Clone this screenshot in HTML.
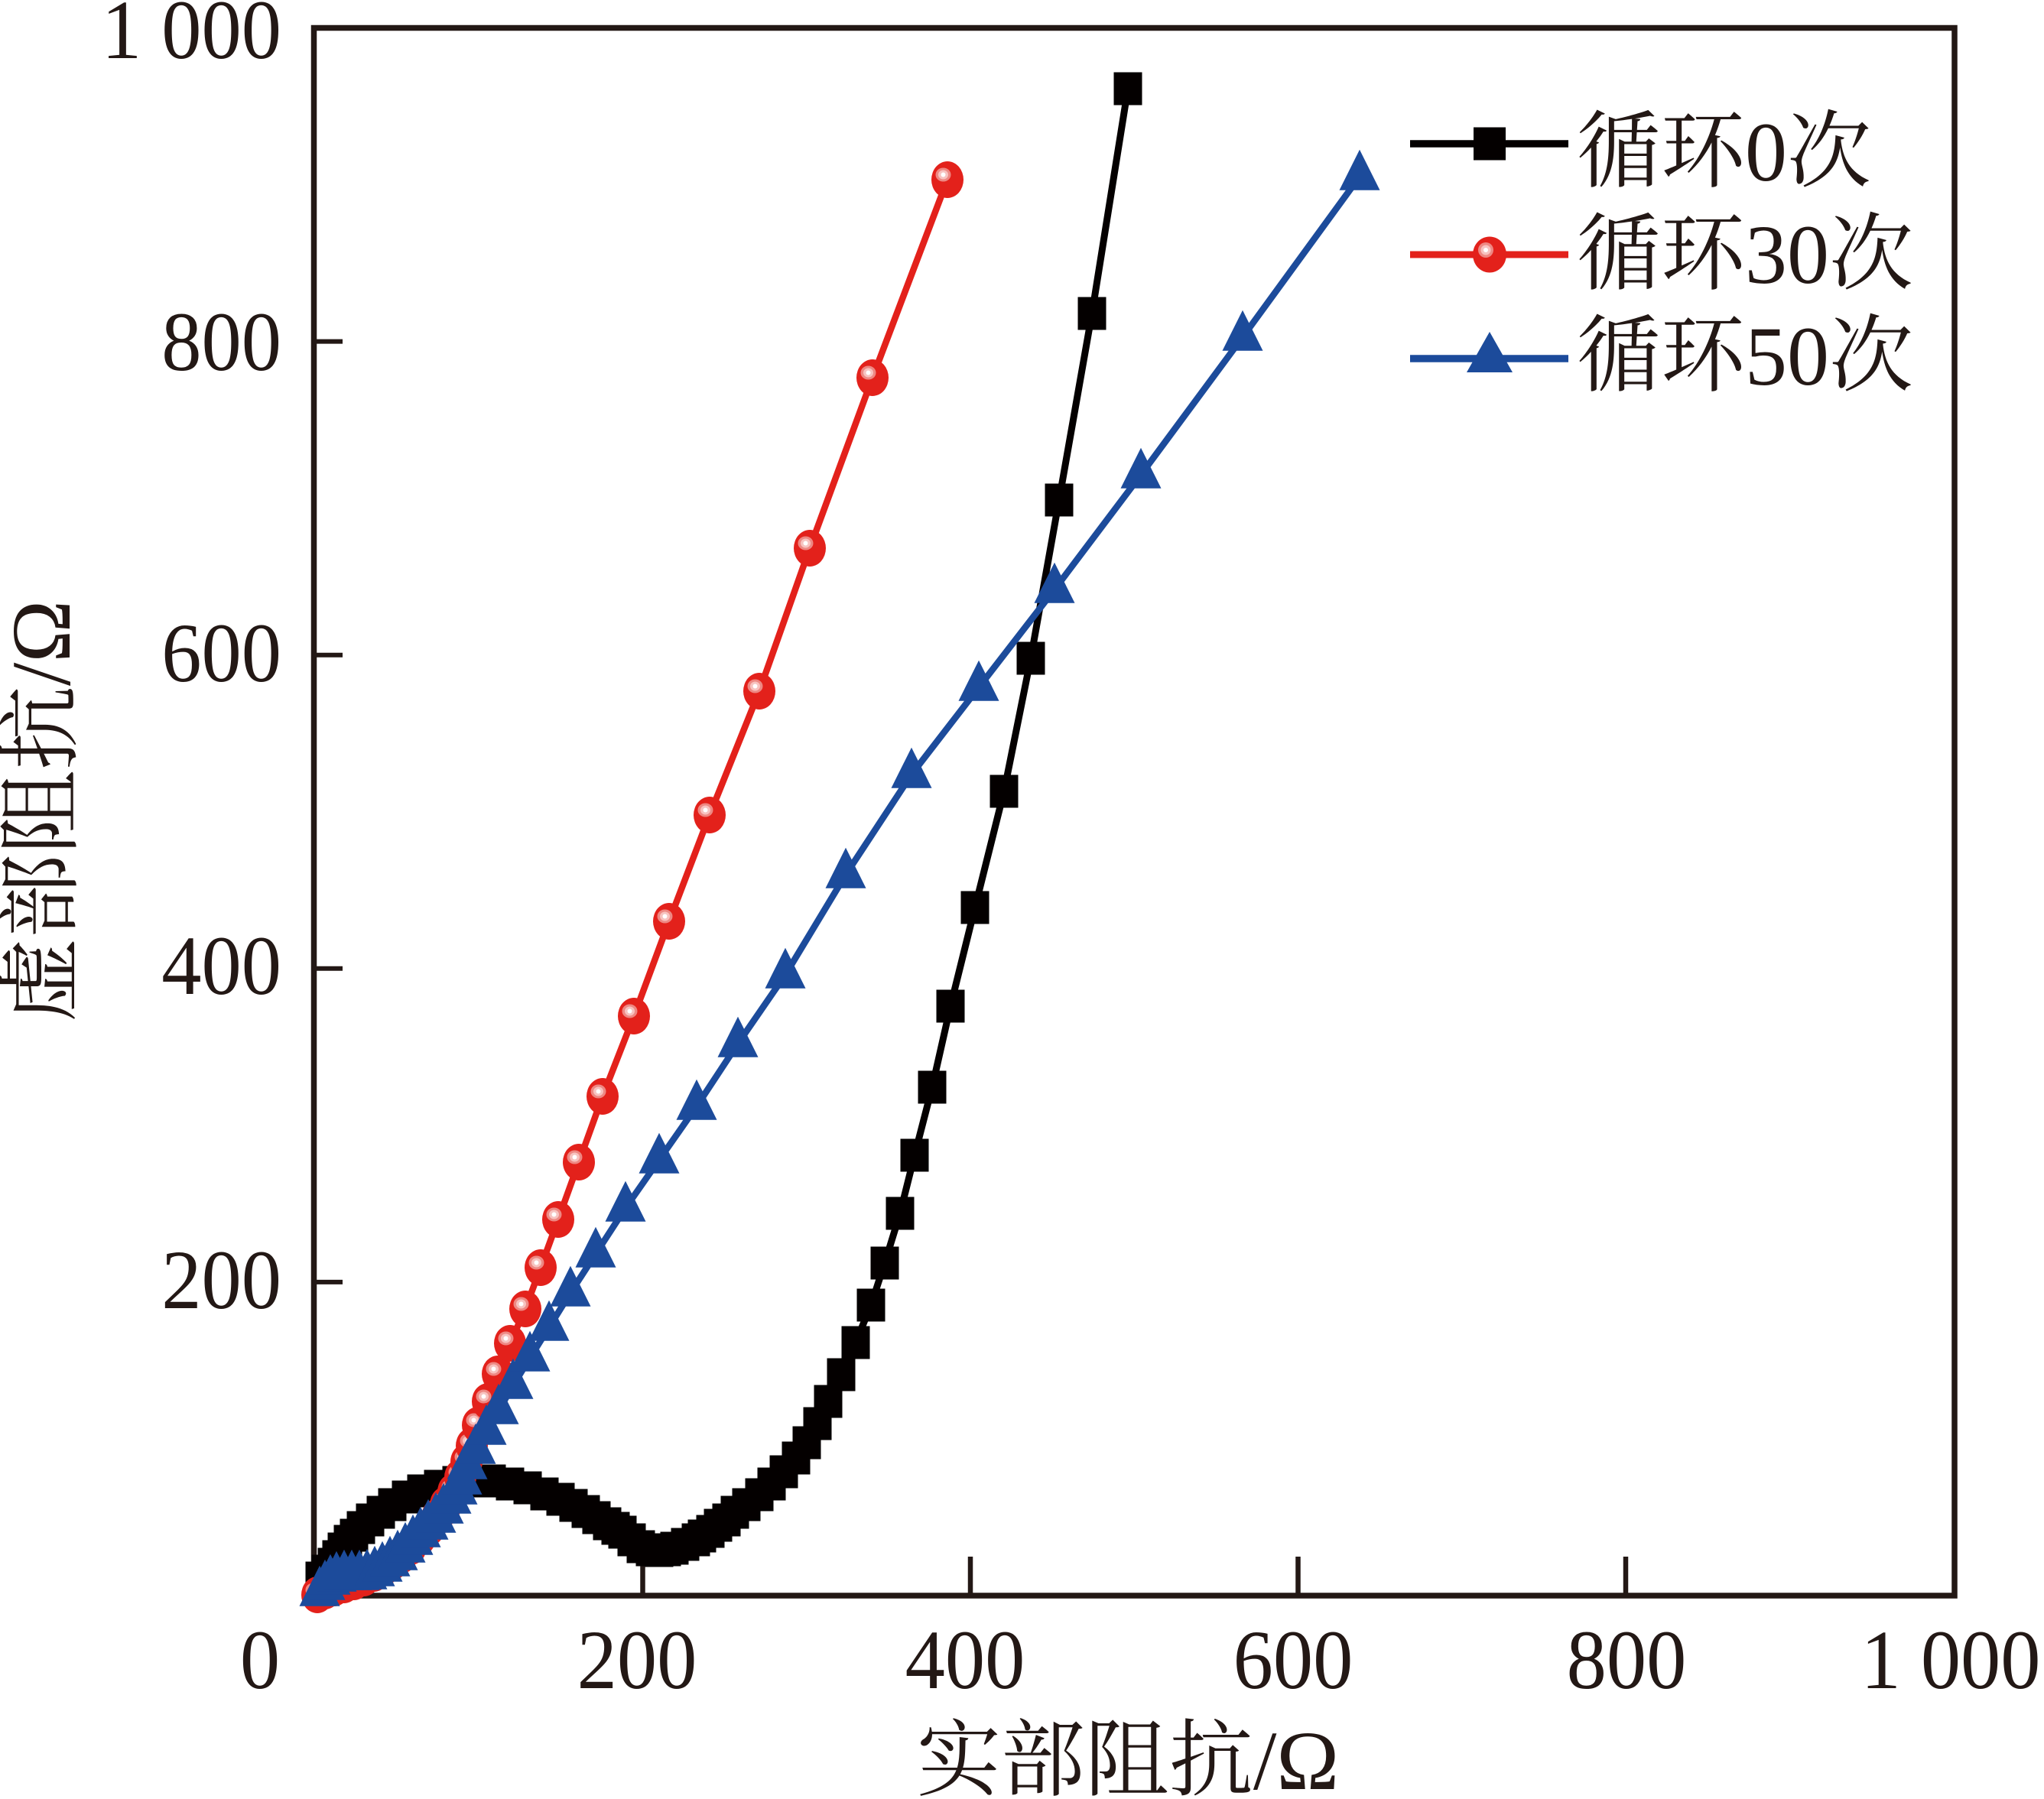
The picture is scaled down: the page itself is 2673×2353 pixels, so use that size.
<!DOCTYPE html>
<html>
<head>
<meta charset="utf-8">
<style>
  html, body { margin: 0; padding: 0; background: #ffffff; }
  svg { display: block; }
  .num { font-family: "Liberation Serif", "Times New Roman", serif; font-size: 110px; fill: #231815; }
  .lab { font-family: "Liberation Serif", "Noto Serif CJK SC", serif; font-size: 110px; fill: #231815; }
</style>
</head>
<body>
<svg width="2673" height="2353" viewBox="0 0 2673 2353" xmlns="http://www.w3.org/2000/svg">
  <defs>
    <marker id="sq" markerUnits="userSpaceOnUse" viewBox="-25 -25 50 50" refX="0" refY="0" markerWidth="50" markerHeight="50" overflow="visible">
      <rect x="-18.5" y="-21.5" width="37" height="43" fill="#040000"/>
    </marker>
    <marker id="ci" markerUnits="userSpaceOnUse" viewBox="-30 -30 60 60" refX="0" refY="0" markerWidth="60" markerHeight="60" overflow="visible">
      <ellipse cx="0" cy="0" rx="21" ry="24" fill="#e3211b"/>
      <ellipse cx="-5.5" cy="-6.5" rx="10" ry="9" fill="#ee8883"/>
      <ellipse cx="-5.5" cy="-6.5" rx="6.5" ry="6" fill="#f7c3c0"/>
      <ellipse cx="-5.5" cy="-6.5" rx="3" ry="3" fill="#ffffff"/>
    </marker>
    <marker id="tr" markerUnits="userSpaceOnUse" viewBox="-30 -40 60 60" refX="0" refY="0" markerWidth="60" markerHeight="60" overflow="visible">
      <polygon points="0,-35.3 26.5,17.7 -26.5,17.7" fill="#1c4b9b"/>
    </marker>
  </defs>

  <!-- axes frame -->
  <rect x="410.5" y="36.5" width="2145.5" height="2050.5" fill="none" stroke="#231815" stroke-width="7.5"/>
  <!-- x ticks -->
  <g stroke="#231815" stroke-width="6.5">
    <line x1="840.5" y1="2087" x2="840.5" y2="2036"/>
    <line x1="1269" y1="2087" x2="1269" y2="2036"/>
    <line x1="1697.5" y1="2087" x2="1697.5" y2="2036"/>
    <line x1="2126" y1="2087" x2="2126" y2="2036"/>
  </g>
  <!-- y ticks -->
  <g stroke="#231815" stroke-width="6">
    <line x1="410" y1="446.6" x2="448" y2="446.6"/>
    <line x1="410" y1="856.7" x2="448" y2="856.7"/>
    <line x1="410" y1="1266.8" x2="448" y2="1266.8"/>
    <line x1="410" y1="1676.9" x2="448" y2="1676.9"/>
  </g>

  <!-- x tick labels -->
  <text class="num" text-anchor="middle" transform="translate(340,2208) scale(0.95,1)">0</text>
  <text class="num" text-anchor="middle" transform="translate(833,2208) scale(0.95,1)">200</text>
  <text class="num" text-anchor="middle" transform="translate(1262,2208) scale(0.95,1)">400</text>
  <text class="num" text-anchor="middle" transform="translate(1691,2208) scale(0.95,1)">600</text>
  <text class="num" text-anchor="middle" transform="translate(2127,2208) scale(0.95,1)">800</text>
  <text class="num" text-anchor="middle" transform="translate(2551,2208) scale(0.95,1)">1 000</text>

  <!-- y tick labels -->
  <text class="num" text-anchor="end" transform="translate(368,76) scale(0.95,1)">1 000</text>
  <text class="num" text-anchor="end" transform="translate(368,484) scale(0.95,1)">800</text>
  <text class="num" text-anchor="end" transform="translate(368,891) scale(0.95,1)">600</text>
  <text class="num" text-anchor="end" transform="translate(368,1300) scale(0.95,1)">400</text>
  <text class="num" text-anchor="end" transform="translate(368,1711) scale(0.95,1)">200</text>

  <!-- axis titles -->
  <text class="lab" text-anchor="middle" x="1475" y="2340">实部阻抗/Ω</text>
  <text class="lab" text-anchor="middle" transform="translate(91,1061) rotate(-90)">虚部阻抗/Ω</text>

  <!-- Series: 循环0次 (black squares) -->
  <polyline fill="none" stroke="#040000" stroke-width="9" stroke-linejoin="round" stroke-linecap="round"
    points="418,2064 426,2055 434,2046 440,2036 447,2026 455,2016 463,2008 472,1998 484,1988 498,1978 513,1968 531,1958 551,1950 573,1944 597,1939 620,1937 643,1937 667,1941 690,1946 712,1954 733,1961 750,1969 766,1977 780,1985 794,1993 805,1999 814,2004 826,2014 838,2023 850,2027 862,2028 872,2027 882,2025 896,2020 910,2014 918,2009 929,2003 939,1995 950,1988 961,1978 976,1968 993,1955 1009,1941 1025,1925 1041,1907 1055,1887 1069,1862 1083,1833 1100,1798 1119,1756 1139,1707 1157,1652 1177,1587 1196,1511 1219,1422 1243,1316 1275,1187 1313,1035 1348,861 1385,654 1428,410 1475,116"/>
  <polyline fill="none" stroke="none" marker-start="url(#sq)" marker-mid="url(#sq)" marker-end="url(#sq)"
    points="418,2064 426,2055 434,2046 440,2036 447,2026 455,2016 463,2008 472,1998 484,1988 498,1978 513,1968 531,1958 551,1950 573,1944 597,1939 620,1937 643,1937 667,1941 690,1946 712,1954 733,1961 750,1969 766,1977 780,1985 794,1993 805,1999 814,2004 826,2014 838,2023 850,2027 862,2028 872,2027 882,2025 896,2020 910,2014 918,2009 929,2003 939,1995 950,1988 961,1978 976,1968 993,1955 1009,1941 1025,1925 1041,1907 1055,1887 1069,1862 1083,1833 1100,1798 1119,1756 1139,1707 1157,1652 1177,1587 1196,1511 1219,1422 1243,1316 1275,1187 1313,1035 1348,861 1385,654 1428,410 1475,116"/>

  <!-- Series: 循环30次 (red circles) -->
  <polyline fill="none" stroke="#e3211b" stroke-width="8.5" stroke-linejoin="round" stroke-linecap="round"
    points="415,2086 425,2081 437,2077 450,2073 463,2069 476,2064 489,2058 501,2051 513,2043 525,2034 537,2023 549,2011 561,1998 572,1984 583,1968 593,1951 602,1932 610,1912 617,1891 625,1864 638,1833 651,1797 667,1757 687,1712 707,1658 730,1595 757,1520 788,1434 829,1329 875,1205 928,1066 993,904 1059,717 1141,494 1239,235"/>
  <polyline fill="none" stroke="none" marker-start="url(#ci)" marker-mid="url(#ci)" marker-end="url(#ci)"
    points="415,2086 425,2081 437,2077 450,2073 463,2069 476,2064 489,2058 501,2051 513,2043 525,2034 537,2023 549,2011 561,1998 572,1984 583,1968 593,1951 602,1932 610,1912 617,1891 625,1864 638,1833 651,1797 667,1757 687,1712 707,1658 730,1595 757,1520 788,1434 829,1329 875,1205 928,1066 993,904 1059,717 1141,494 1239,235"/>

  <!-- Series: 循环50次 (blue triangles) -->
  <polyline fill="none" stroke="#1c4b9b" stroke-width="8.5" stroke-linejoin="round" stroke-linecap="round"
    points="418,2083 425,2075 432,2068 440,2064 450,2062 460,2062 470,2062 480,2061 490,2057 500,2051 510,2044 520,2036 530,2026 540,2016 550,2006 560,1996 570,1987 580,1975 590,1962 598,1950 604,1937 611,1917 622,1897 636,1872 652,1845 671,1812 693,1776 718,1736 746,1691 779,1640 818,1580 862,1517 911,1447 965,1365 1027,1275 1106,1144 1192,1013 1280,899 1379,771 1492,621 1625,441 1778,231"/>
  <polyline fill="none" stroke="none" marker-start="url(#tr)" marker-mid="url(#tr)" marker-end="url(#tr)"
    points="418,2083 425,2075 432,2068 440,2064 450,2062 460,2062 470,2062 480,2061 490,2057 500,2051 510,2044 520,2036 530,2026 540,2016 550,2006 560,1996 570,1987 580,1975 590,1962 598,1950 604,1937 611,1917 622,1897 636,1872 652,1845 671,1812 693,1776 718,1736 746,1691 779,1640 818,1580 862,1517 911,1447 965,1365 1027,1275 1106,1144 1192,1013 1280,899 1379,771 1492,621 1625,441 1778,231"/>

  <!-- Legend -->
  <line x1="1844" y1="188" x2="2051" y2="188" stroke="#040000" stroke-width="9.5"/>
  <rect x="1927" y="166.5" width="42" height="43" fill="#040000"/>
  <text class="lab" x="2062" y="236">循环0次</text>

  <line x1="1844" y1="333" x2="2051" y2="333" stroke="#e3211b" stroke-width="9"/>
  <ellipse cx="1948" cy="333" rx="22" ry="23.5" fill="#e3211b"/>
  <ellipse cx="1943" cy="327" rx="10" ry="10" fill="#ee8883"/>
  <ellipse cx="1943" cy="327" rx="6.5" ry="6.5" fill="#f7c3c0"/>
  <ellipse cx="1943" cy="327" rx="3" ry="3" fill="#ffffff"/>
  <text class="lab" x="2062" y="370">循环30次</text>

  <line x1="1844" y1="469" x2="2051" y2="469" stroke="#1c4b9b" stroke-width="9.5"/>
  <polygon points="1948,434 1978,487 1918,487" fill="#1c4b9b"/>
  <text class="lab" x="2062" y="503">循环50次</text>
</svg>
</body>
</html>
